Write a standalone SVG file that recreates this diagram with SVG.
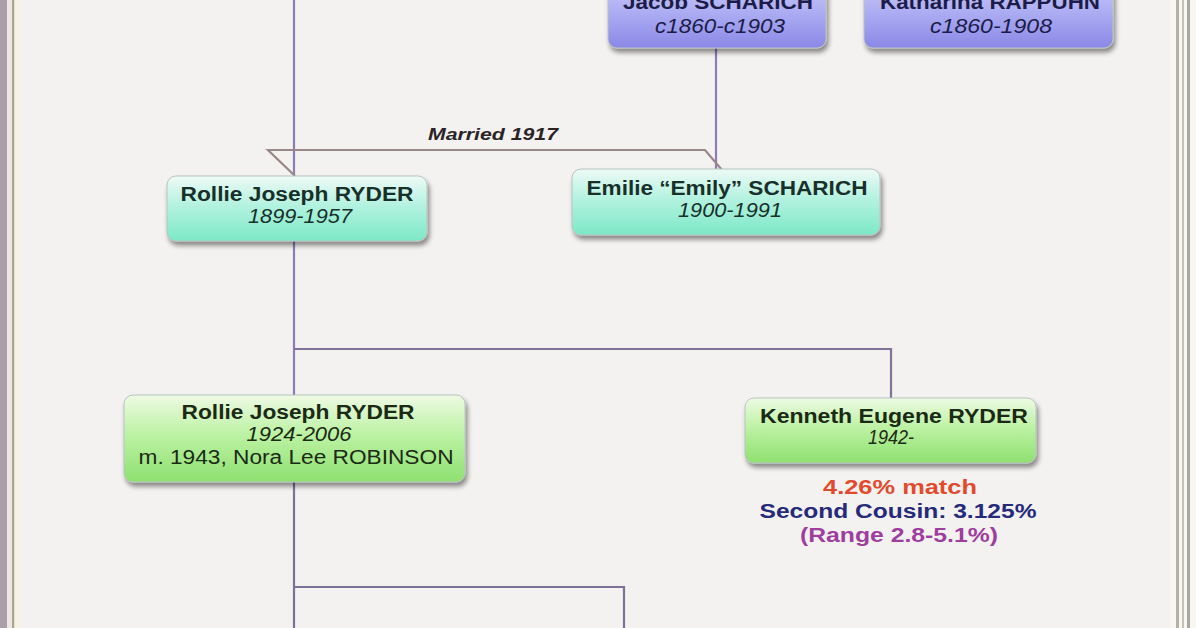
<svg xmlns="http://www.w3.org/2000/svg" width="1196" height="628" viewBox="0 0 1196 628">
<defs>
<linearGradient id="gPurple" x1="0" y1="0" x2="0" y2="1">
<stop offset="0" stop-color="#d4d4fa"/><stop offset="0.6" stop-color="#a8a8f2"/><stop offset="1" stop-color="#8a88e6"/>
</linearGradient>
<linearGradient id="gTeal" x1="0" y1="0" x2="0" y2="1">
<stop offset="0" stop-color="#eefaf6"/><stop offset="0.45" stop-color="#b4f2e0"/><stop offset="1" stop-color="#7ce8c6"/>
</linearGradient>
<linearGradient id="gGreen" x1="0" y1="0" x2="0" y2="1">
<stop offset="0" stop-color="#eefae4"/><stop offset="0.45" stop-color="#bdf2a4"/><stop offset="1" stop-color="#8ee070"/>
</linearGradient>
<filter id="shadow" x="-10%" y="-20%" width="125%" height="150%">
<feGaussianBlur in="SourceAlpha" stdDeviation="2.5"/>
<feOffset dx="2" dy="4" result="b"/>
<feComponentTransfer><feFuncA type="linear" slope="0.45"/></feComponentTransfer>
<feMerge><feMergeNode/><feMergeNode in="SourceGraphic"/></feMerge>
</filter>
</defs>
<style>
.bx{stroke:#b8c4c0;stroke-width:1;filter:url(#shadow)}
.nm{font-family:"Liberation Sans",Arial,sans-serif;font-weight:bold;font-size:20px;text-anchor:middle}
.dt{font-family:"Liberation Sans",Arial,sans-serif;font-style:italic;font-size:20px;text-anchor:middle}
.rg{font-family:"Liberation Sans",Arial,sans-serif;font-size:20px;text-anchor:middle}
.teal{fill:#17302a}
.navy{fill:#1c1c48}
.grn{fill:#1a2a14}
.con{fill:none;stroke-width:2.2}
</style>
<rect x="0" y="0" width="1196" height="628" fill="#f4f2f0"/>
<!-- frame borders -->
<rect x="0" y="0" width="7" height="628" fill="#a99ea9"/>
<rect x="7" y="0" width="5" height="628" fill="#efe6e4"/>
<rect x="12" y="0" width="2.5" height="628" fill="#a6a892"/>
<rect x="14.5" y="0" width="6" height="628" fill="#f6f3e4"/>
<rect x="1170" y="0" width="26" height="628" fill="#f8f6f0"/>
<rect x="1176" y="0" width="3" height="628" fill="#b4b2a8"/>
<rect x="1182" y="0" width="2" height="628" fill="#c4c2b8"/>
<rect x="1187" y="0" width="3" height="628" fill="#a8a6a0"/>

<g id="connectors">
<path class="con" stroke="#8a7db6" d="M294,0 V176"/>
<path class="con" stroke="#8a7db6" d="M294,240 V396"/>
<path class="con" stroke="#807298" d="M294,349 H891 V399"/>
<path class="con" stroke="#8a7db6" d="M716,48 V170"/>
<path class="con" stroke="#9a8888" d="M295,176 L268,150 H705 L722,170"/>
<path class="con" stroke="#7c7298" d="M294,482 V628"/>
<path class="con" stroke="#7c7298" d="M294,587 H624 V628"/>
<text x="493" y="140" font-family="Liberation Sans, Arial, sans-serif" font-weight="bold" font-style="italic" font-size="17" text-anchor="middle" fill="#2a2426" textLength="130" lengthAdjust="spacingAndGlyphs">Married 1917</text>
</g>

<g id="jacob">
<rect class="bx" x="608" y="-30" width="218" height="78" rx="9" fill="url(#gPurple)"/>
<text class="nm navy" x="718" y="9" textLength="190" lengthAdjust="spacingAndGlyphs">Jacob SCHARICH</text>
<text class="dt navy" x="720" y="33" textLength="130" lengthAdjust="spacingAndGlyphs">c1860-c1903</text>
</g>

<g id="katharina">
<rect class="bx" x="864" y="-30" width="249" height="78" rx="9" fill="url(#gPurple)"/>
<text class="nm navy" x="990" y="9" textLength="220" lengthAdjust="spacingAndGlyphs">Katharina RAPPUHN</text>
<text class="dt navy" x="991" y="33" textLength="122" lengthAdjust="spacingAndGlyphs">c1860-1908</text>
</g>

<g id="rollie1899">
<rect class="bx" x="167" y="176" width="260" height="65" rx="9" fill="url(#gTeal)"/>
<text class="nm teal" x="297" y="201" textLength="233" lengthAdjust="spacingAndGlyphs">Rollie Joseph RYDER</text>
<text class="dt teal" x="300" y="223" textLength="104" lengthAdjust="spacingAndGlyphs">1899-1957</text>
</g>

<g id="emilie">
<rect class="bx" x="572" y="169" width="308" height="66" rx="9" fill="url(#gTeal)"/>
<text class="nm teal" x="727" y="195" textLength="281" lengthAdjust="spacingAndGlyphs">Emilie “Emily” SCHARICH</text>
<text class="dt teal" x="730" y="217" textLength="104" lengthAdjust="spacingAndGlyphs">1900-1991</text>
</g>

<g id="rollie1924">
<rect class="bx" x="124" y="395" width="341" height="87" rx="9" fill="url(#gGreen)"/>
<text class="nm grn" x="298" y="419" textLength="233" lengthAdjust="spacingAndGlyphs">Rollie Joseph RYDER</text>
<text class="dt grn" x="299" y="441" textLength="105" lengthAdjust="spacingAndGlyphs">1924-2006</text>
<text class="rg grn" x="296" y="464" textLength="315" lengthAdjust="spacingAndGlyphs">m. 1943, Nora Lee ROBINSON</text>
</g>

<g id="kenneth">
<rect class="bx" x="745" y="398" width="291" height="65" rx="9" fill="url(#gGreen)"/>
<text class="nm grn" x="894" y="423" textLength="268" lengthAdjust="spacingAndGlyphs">Kenneth Eugene RYDER</text>
<text class="dt grn" x="891" y="444" textLength="46" lengthAdjust="spacingAndGlyphs">1942-</text>
<text class="nm" x="900" y="494" fill="#e24a2e" textLength="154" lengthAdjust="spacingAndGlyphs">4.26% match</text>
<text class="nm" x="898" y="518" fill="#262a7a" textLength="277" lengthAdjust="spacingAndGlyphs">Second Cousin: 3.125%</text>
<text class="nm" x="899" y="542" fill="#9e3e9e" textLength="198" lengthAdjust="spacingAndGlyphs">(Range 2.8-5.1%)</text>
</g>
</svg>
